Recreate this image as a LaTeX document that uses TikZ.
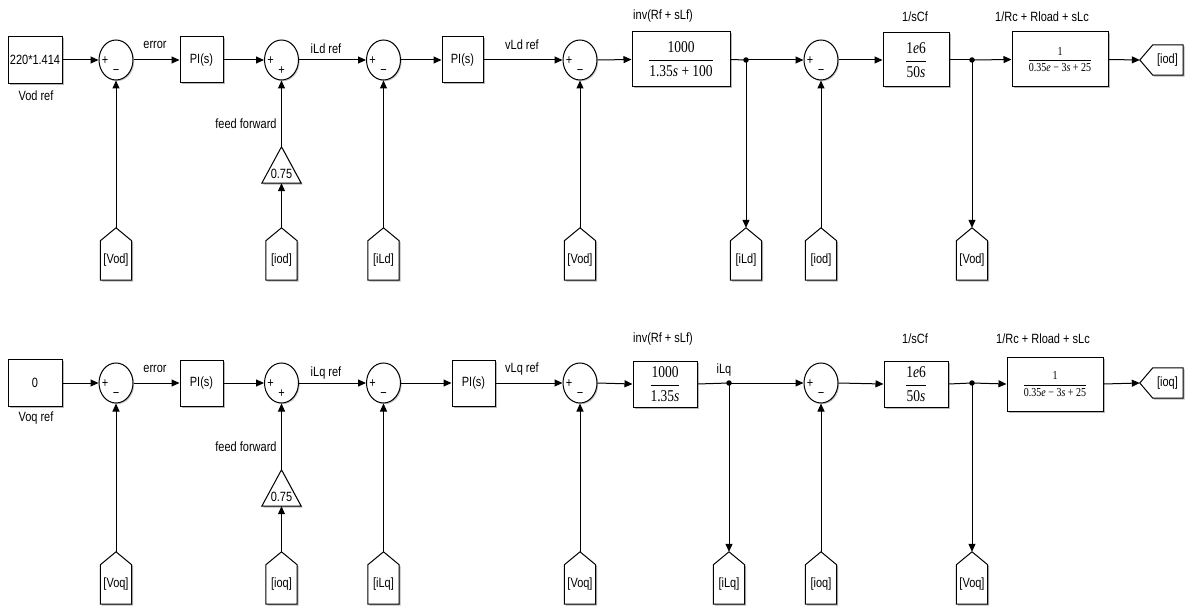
\documentclass[tikz,border=0pt]{standalone}
\usepackage{amsmath}
\usepackage{fontspec}
\setmainfont{Liberation Sans}
\newfontfamily\tms{Liberation Serif}
\usetikzlibrary{arrows.meta,shapes.geometric}

\newsavebox\stbox
\newcommand\tn[1]{\text{\tms #1}}
\newcommand\ti[1]{\text{\tms\itshape #1}}

\tikzset{
  stretch/.style={execute at begin node={\begin{lrbox}{\stbox}},
    execute at end node={\end{lrbox}\scalebox{1}[1.22]{\usebox\stbox}}},
  every node/.style={font=\fontsize{11}{13}\selectfont, stretch},
  blk/.style={draw, line width=1pt, fill=white, inner sep=0pt,
    preaction={draw=none, fill=black!28, transform canvas={shift={(1.5pt,-1.5pt)}}}},
  sumc/.style={draw, line width=1pt, ellipse, fill=white, minimum width=34pt,
    minimum height=40pt, inner sep=0pt,
    preaction={draw=none, fill=black!22, transform canvas={shift={(1.2pt,-1.2pt)}}}},
  sgn/.style={font=\fontsize{11}{12}\selectfont, inner sep=0pt},
  sig/.style={line width=1pt, -{Triangle[length=8pt,width=7pt]}},
  wire/.style={line width=1pt},
  jdot/.style={circle, fill=black, inner sep=0pt, minimum size=5.5pt},
  shd/.style={fill=black!28},
  outl/.style={draw, line width=1pt, fill=white},
}

% From block: name, x, y(center), text ; apex at top
\newcommand\FromBlk[4]{%
  \node[inner sep=0pt, minimum width=31pt, minimum height=52pt] (#1) at (#2,#3) {};
  \path[shd] ([shift={(1.5pt,-1.5pt)}]#1.south west) -- ([shift={(1.5pt,-1.5pt)}]#1.south east)
     -- ([shift={(1.5pt,-14.5pt)}]#1.north east) -- ([shift={(1.5pt,-1.5pt)}]#1.north)
     -- ([shift={(1.5pt,-14.5pt)}]#1.north west) -- cycle;
  \path[outl] (#1.south west) -- (#1.south east) -- ([yshift=-13pt]#1.north east)
     -- (#1.north) -- ([yshift=-13pt]#1.north west) -- cycle;
  \node (#1t) at ([yshift=-6.5pt]#1.center) {#4};
}
% Goto block: name, x, y, text ; point at left
\newcommand\GotoBlk[4]{%
  \node[inner sep=0pt, minimum width=43pt, minimum height=30pt] (#1) at (#2,#3) {};
  \path[shd] ([shift={(1.5pt,-1.5pt)}]#1.west) -- ([shift={(14.5pt,-1.5pt)}]#1.north west)
     -- ([shift={(1.5pt,-1.5pt)}]#1.north east) -- ([shift={(1.5pt,-1.5pt)}]#1.south east)
     -- ([shift={(14.5pt,-1.5pt)}]#1.south west) -- cycle;
  \path[outl] (#1.west) -- ([xshift=13pt]#1.north west) -- (#1.north east)
     -- (#1.south east) -- ([xshift=13pt]#1.south west) -- cycle;
  \node (#1t) at ([xshift=6pt]#1.center) {#4};
}
% Gain block: name, x, y(center) ; apex at top
\newcommand\GainBlk[3]{%
  \node[inner sep=0pt, minimum width=39pt, minimum height=36pt] (#1) at (#2,#3) {};
  \path[shd] ([shift={(1.5pt,-1.5pt)}]#1.south west) -- ([shift={(1.5pt,-1.5pt)}]#1.south east)
     -- ([shift={(1.5pt,-1.5pt)}]#1.north) -- cycle;
  \path[outl] (#1.south west) -- (#1.south east) -- (#1.north) -- cycle;
  \node (#1t) at ([yshift=-9pt]#1.center) {0.75};
}

\begin{document}
\begin{tikzpicture}[x=1pt,y=-1pt]
\useasboundingbox[fill=white] (0,0) rectangle (1192,607);

%================ TOP ROW ================
\node[blk, minimum width=54pt, minimum height=47pt] (c1) at (35,60) {220*1.414};
\node (c1l) at (36,96) {Vod ref};
\node[sumc] (s1) at (116,60) {};
\node[blk, minimum width=43pt, minimum height=46pt] (pi1) at (201.5,60) {PI(s)};
\node[sumc] (s2) at (281.5,60) {};
\node[sumc] (s3) at (383.5,60) {};
\node[blk, minimum width=41pt, minimum height=46pt] (pi2) at (462.5,60) {PI(s)};
\node[sumc] (s4) at (580,60) {};
\node[blk, minimum width=98pt, minimum height=55pt] (tf1) at (681,59.5)
  {\fontsize{13.5}{15}\selectfont$\dfrac{\tn{1000}}{\tn{1.35}\ti{s}\tn{ + 100}}$};
\node[jdot] (j1) at (746,60) {};
\node[sumc] (s5) at (821,60) {};
\node[blk, minimum width=66pt, minimum height=54pt] (tf2) at (916,60)
  {\fontsize{13.5}{15}\selectfont$\dfrac{\tn{1}\ti{e}\tn{6}}{\tn{50}\ti{s}}$};
\node[jdot] (j2) at (972,60) {};
\node[blk, minimum width=96pt, minimum height=55pt] (tf3) at (1060,59.5)
  {\fontsize{10}{11}\selectfont$\dfrac{\tn{1}}{\tn{0.35}\ti{e}\tn{ − 3}\ti{s}\tn{ + 25}}$};
\GotoBlk{g1}{1161.5}{60}{[iod]}

% signs
\node[sgn] (s1p) at (105,61) {+};   \node[sgn] (s1m) at (116,72) {−};
\node[sgn] (s2p) at (270.5,61) {+}; \node[sgn] (s2q) at (281.5,71) {+};
\node[sgn] (s3p) at (372.5,61) {+}; \node[sgn] (s3m) at (383.5,72) {−};
\node[sgn] (s4p) at (569,61) {+};   \node[sgn] (s4m) at (580,72) {−};
\node[sgn] (s5p) at (810,61) {+};   \node[sgn] (s5m) at (821,72) {−};

% labels
\node (l1) at (155,45) {error};
\node (l2) at (326,49) {iLd ref};
\node (l3) at (522,45) {vLd ref};
\node (l4) at (663,16) {inv(Rf + sLf)};
\node (l5) at (915,17) {1/sCf};
\node (l6) at (1042,17) {1/Rc + Rload + sLc};
\node (l7) at (246,124) {feed forward};

% gain and from blocks
\GainBlk{k1}{281.5}{165}
\FromBlk{fa1}{116}{254}{[Vod]}
\FromBlk{fa2}{281.5}{254}{[iod]}
\FromBlk{fa3}{383.5}{254}{[iLd]}
\FromBlk{fa4}{580}{254}{[Vod]}
\FromBlk{fa5}{746}{254}{[iLd]}
\FromBlk{fa6}{821}{254}{[iod]}
\FromBlk{fa7}{972}{254}{[Vod]}

% connectors
\draw[sig] (c1.east) -- (s1.west);
\draw[sig] (s1.east) -- (pi1.west);
\draw[sig] (pi1.east) -- (s2.west);
\draw[sig] (s2.east) -- (s3.west);
\draw[sig] (s3.east) -- (pi2.west);
\draw[sig] (pi2.east) -- (s4.west);
\draw[sig] (s4.east) -- (tf1.west);
\draw[wire] (tf1.east) -- (j1.center);
\draw[sig] (j1.center) -- (s5.west);
\draw[sig] (s5.east) -- (tf2.west);
\draw[wire] (tf2.east) -- (j2.center);
\draw[sig] (j2.center) -- (tf3.west);
\draw[sig] (tf3.east) -- (g1.west);
\draw[sig] (fa1.north) -- (s1.south);
\draw[sig] (fa2.north) -- (k1.south);
\draw[sig] (k1.north) -- (s2.south);
\draw[sig] (fa3.north) -- (s3.south);
\draw[sig] (fa4.north) -- (s4.south);
\draw[sig] (j1.center) -- (fa5.north);
\draw[sig] (fa6.north) -- (s5.south);
\draw[sig] (j2.center) -- (fa7.north);

%================ BOTTOM ROW ================
\node[blk, minimum width=54pt, minimum height=47pt] (c2) at (35,383) {0};
\node (c2l) at (36,418) {Voq ref};
\node[sumc] (t1) at (116,383) {};
\node[blk, minimum width=43pt, minimum height=46pt] (qi1) at (201.5,383) {PI(s)};
\node[sumc] (t2) at (281.5,383) {};
\node[sumc] (t3) at (383.5,383) {};
\node[blk, minimum width=43pt, minimum height=46pt] (qi2) at (473.5,383) {PI(s)};
\node[sumc] (t4) at (580,383) {};
\node[blk, minimum width=64pt, minimum height=46pt] (uf1) at (665,384)
  {\fontsize{13.5}{15}\selectfont$\dfrac{\tn{1000}}{\tn{1.35}\ti{s}}$};
\node[jdot] (k1j) at (729,383) {};
\node[sumc] (t5) at (821,383) {};
\node[blk, minimum width=64pt, minimum height=46pt] (uf2) at (916,384)
  {\fontsize{13.5}{15}\selectfont$\dfrac{\tn{1}\ti{e}\tn{6}}{\tn{50}\ti{s}}$};
\node[jdot] (k2j) at (972,383) {};
\node[blk, minimum width=96pt, minimum height=54pt] (uf3) at (1055,384)
  {\fontsize{10}{11}\selectfont$\dfrac{\tn{1}}{\tn{0.35}\ti{e}\tn{ − 3}\ti{s}\tn{ + 25}}$};
\GotoBlk{g2}{1161.5}{383}{[ioq]}

\node[sgn] (t1p) at (105,384) {+};   \node[sgn] (t1m) at (116,395) {−};
\node[sgn] (t2p) at (270.5,384) {+}; \node[sgn] (t2q) at (281.5,394) {+};
\node[sgn] (t3p) at (372.5,384) {+}; \node[sgn] (t3m) at (383.5,395) {−};
\node[sgn] (t4p) at (569,384) {+};   \node[sgn] (t4m) at (580,395) {−};
\node[sgn] (t5p) at (810,384) {+};   \node[sgn] (t5m) at (821,395) {−};

\node (m1) at (155,369) {error};
\node (m2) at (326,373) {iLq ref};
\node (m3) at (522,369) {vLq ref};
\node (m4) at (663,339) {inv(Rf + sLf)};
\node (m8) at (724,370) {iLq};
\node (m5) at (915,339) {1/sCf};
\node (m6) at (1043,339) {1/Rc + Rload + sLc};
\node (m7) at (246,447) {feed forward};

\GainBlk{k2}{281.5}{488}
\FromBlk{fb1}{116}{578}{[Voq]}
\FromBlk{fb2}{281.5}{578}{[ioq]}
\FromBlk{fb3}{383.5}{578}{[iLq]}
\FromBlk{fb4}{580}{578}{[Voq]}
\FromBlk{fb5}{729}{578}{[iLq]}
\FromBlk{fb6}{821}{578}{[ioq]}
\FromBlk{fb7}{972}{578}{[Voq]}

\draw[sig] (c2.east) -- (t1.west);
\draw[sig] (t1.east) -- (qi1.west);
\draw[sig] (qi1.east) -- (t2.west);
\draw[sig] (t2.east) -- (t3.west);
\draw[sig] (t3.east) -- (qi2.west);
\draw[sig] (qi2.east) -- (t4.west);
\draw[sig] (t4.east) -- (uf1.west);
\draw[wire] (uf1.east) -- (k1j.center);
\draw[sig] (k1j.center) -- (t5.west);
\draw[sig] (t5.east) -- (uf2.west);
\draw[wire] (uf2.east) -- (k2j.center);
\draw[sig] (k2j.center) -- (uf3.west);
\draw[sig] (uf3.east) -- (g2.west);
\draw[sig] (fb1.north) -- (t1.south);
\draw[sig] (fb2.north) -- (k2.south);
\draw[sig] (k2.north) -- (t2.south);
\draw[sig] (fb3.north) -- (t3.south);
\draw[sig] (fb4.north) -- (t4.south);
\draw[sig] (k1j.center) -- (fb5.north);
\draw[sig] (fb6.north) -- (t5.south);
\draw[sig] (k2j.center) -- (fb7.north);
\end{tikzpicture}
\end{document}
